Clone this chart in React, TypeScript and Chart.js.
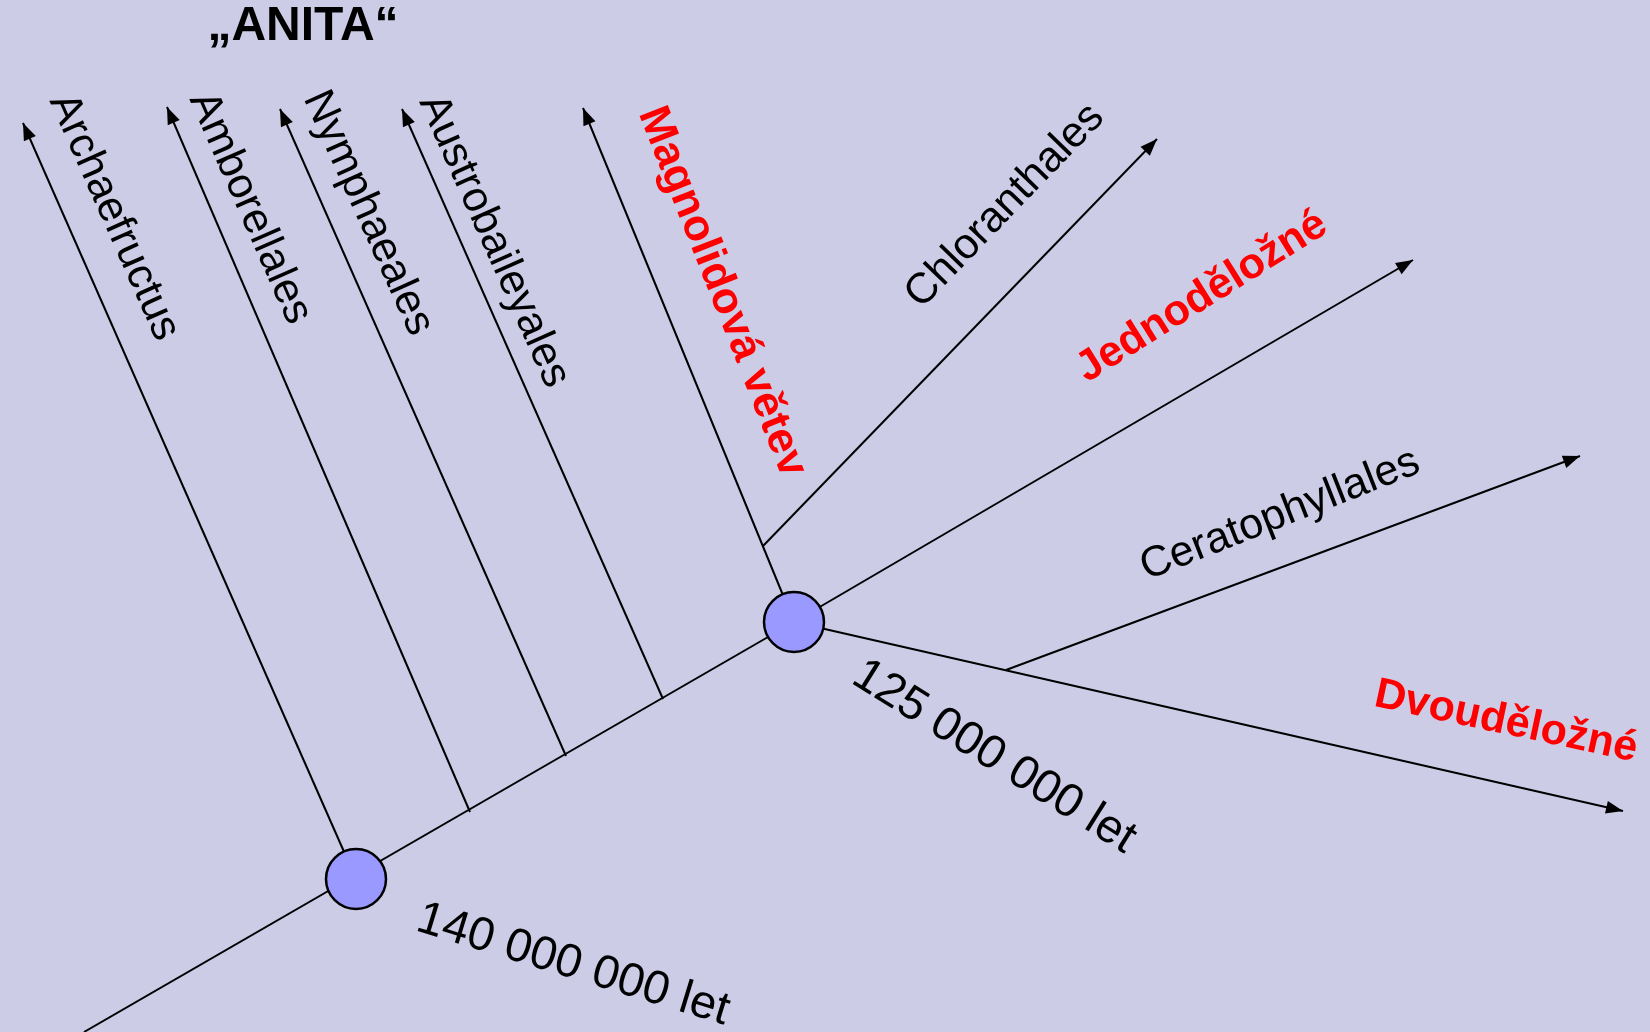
import React, { useEffect, useRef } from "react";
import { Chart, registerables } from "chart.js";

Chart.register(...registerables);

// ---- data (pixel space of the 1650x1032 diagram) ----
const nodeNames = ["140 000 000 let", "125 000 000 let"];
const nodeX = [356, 794];
const nodeY = [879, 622];

const branchNames = [
  "kmen",
  "Archaefructus",
  "Amborellales",
  "Nymphaeales",
  "Austrobaileyales",
  "Magnolidová větev",
  "Chloranthales",
  "Jednoděložné",
  "Dvouděložné",
  "Ceratophyllales",
];
const branchFromX = [84, 356, 470, 566, 663, 794, 763, 794, 794, 1006];
const branchFromY = [1032, 879, 812, 756, 699, 622, 546, 622, 622, 670];
const branchToX = [794, 23, 167, 280, 402, 583, 1157, 1413, 1623, 1580];
const branchToY = [622, 123, 107, 109, 109, 108, 139, 260, 811, 456];
const branchArrow = [false, true, true, true, true, true, true, true, true, true];

const labelTexts = [
  "„ANITA“",
  "Archaefructus",
  "Amborellales",
  "Nymphaeales",
  "Austrobaileyales",
  "Magnolidová větev",
  "Chloranthales",
  "Jednoděložné",
  "Ceratophyllales",
  "Dvouděložné",
  "125 000 000 let",
  "140 000 000 let",
];

// ---- layout / style of labels (kept apart from data) ----
const FONT = '"Liberation Sans", Arial, Helvetica, sans-serif';
const labelLayout = [
  { x: 303, y: 27, a: 0, size: 48, bold: true, color: "#000" },
  { x: 114, y: 217, a: 66, size: 43, bold: false, color: "#000" },
  { x: 250, y: 208, a: 66.3, size: 43, bold: false, color: "#000" },
  { x: 368, y: 213, a: 65.8, size: 43, bold: false, color: "#000" },
  { x: 494, y: 241, a: 66, size: 43, bold: false, color: "#000" },
  { x: 722, y: 292, a: 68.5, size: 44, bold: true, color: "#ff0000" },
  { x: 1005, y: 206, a: -46, size: 43, bold: false, color: "#000" },
  { x: 1202, y: 297, a: -32, size: 43, bold: true, color: "#ff0000" },
  { x: 1280, y: 515, a: -21.5, size: 43, bold: false, color: "#000" },
  { x: 1506, y: 722, a: 12, size: 43, bold: true, color: "#ff0000" },
  { x: 994, y: 757, a: 32, size: 47, bold: false, color: "#000" },
  { x: 573, y: 965, a: 17, size: 47, bold: false, color: "#000" },
];

const W = 1650;
const H = 1032;
const BG = "#ccccE7";

const bgPlugin = {
  id: "bg",
  beforeDraw(chart: any) {
    const ctx = chart.ctx;
    ctx.save();
    ctx.fillStyle = BG;
    ctx.fillRect(0, 0, chart.width, chart.height);
    ctx.restore();
  },
};

const arrowPlugin = {
  id: "arrows",
  afterDatasetsDraw(chart: any) {
    const ctx = chart.ctx;
    chart.data.datasets.forEach((ds: any, i: number) => {
      if (!ds.arrow) return;
      const meta = chart.getDatasetMeta(i);
      const pts = meta.data;
      if (pts.length < 2) return;
      const p0 = pts[pts.length - 2];
      const p1 = pts[pts.length - 1];
      const ang = Math.atan2(p1.y - p0.y, p1.x - p0.x);
      const len = 17;
      const hw = 6.5;
      ctx.save();
      ctx.translate(p1.x, p1.y);
      ctx.rotate(ang);
      ctx.beginPath();
      ctx.moveTo(0, 0);
      ctx.lineTo(-len, -hw);
      ctx.lineTo(-len, hw);
      ctx.closePath();
      ctx.fillStyle = "#000";
      ctx.fill();
      ctx.restore();
    });
  },
};

const labelPlugin = {
  id: "labels",
  afterDatasetsDraw(chart: any) {
    const ctx = chart.ctx;
    const xs = chart.scales.x;
    const ys = chart.scales.y;
    labelTexts.forEach((t, i) => {
      const L = labelLayout[i];
      const px = xs.getPixelForValue(L.x);
      const py = ys.getPixelForValue(L.y);
      ctx.save();
      ctx.translate(px, py);
      ctx.rotate((L.a * Math.PI) / 180);
      ctx.font = `${L.bold ? "bold " : ""}${L.size}px ${FONT}`;
      ctx.fillStyle = L.color;
      ctx.textAlign = "center";
      ctx.textBaseline = "middle";
      ctx.fillText(t, 0, 0);
      ctx.restore();
    });
  },
};

export default function App() {
  const ref = useRef<HTMLCanvasElement | null>(null);

  useEffect(() => {
    document.body.style.margin = "0";
    document.body.style.background = BG;
    const canvas = ref.current;
    if (!canvas) return;

    const lineSets = branchNames.map((name, i) => ({
      label: name,
      data: [
        { x: branchFromX[i], y: branchFromY[i] },
        { x: branchToX[i], y: branchToY[i] },
      ],
      showLine: true,
      borderColor: "#000",
      borderWidth: 2,
      pointRadius: 0,
      pointHoverRadius: 0,
      fill: false,
      order: 1,
      arrow: branchArrow[i],
      clip: false,
    }));

    const nodeSet = {
      label: "uzly",
      data: nodeNames.map((n, i) => ({ x: nodeX[i], y: nodeY[i] })),
      showLine: false,
      pointRadius: 30,
      pointHoverRadius: 30,
      pointBackgroundColor: "#9999ff",
      pointBorderColor: "#000",
      pointBorderWidth: 2.5,
      order: 0,
      clip: false,
    };

    const chart = new Chart(canvas, {
      type: "scatter",
      data: { datasets: [nodeSet as any, ...lineSets] },
      options: {
        animation: false,
        responsive: false,
        maintainAspectRatio: false,
        devicePixelRatio: 1,
        layout: { padding: 0, autoPadding: false },
        events: [],
        plugins: {
          legend: { display: false },
          tooltip: { enabled: false },
          title: { display: false },
        },
        scales: {
          x: { type: "linear", min: 0, max: W, display: false },
          y: { type: "linear", min: 0, max: H, reverse: true, display: false },
        },
      },
      plugins: [bgPlugin, arrowPlugin, labelPlugin],
    });
    return () => chart.destroy();
  }, []);

  return (
    <div style={{ width: W, height: H, background: BG }}>
      <canvas ref={ref} width={W} height={H} style={{ display: "block" }} />
    </div>
  );
}
